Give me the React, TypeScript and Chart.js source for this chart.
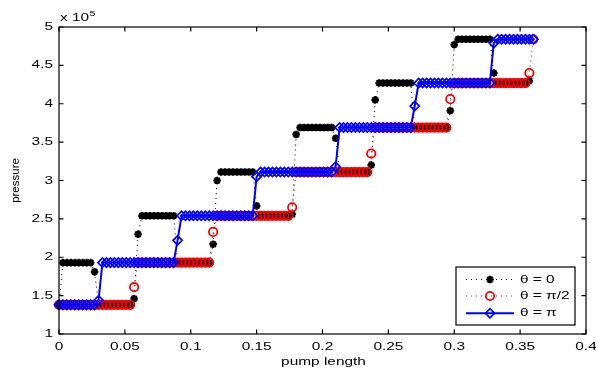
import React, { useEffect, useRef } from 'react';
import { Chart, registerables } from 'chart.js';

Chart.register(...registerables);

// pump length (x)
const PUMP_LENGTH = [
  0, 0.003, 0.006, 0.009, 0.012, 0.015, 0.018, 0.021, 0.024, 0.027,
  0.03, 0.033, 0.036, 0.039, 0.042, 0.045, 0.048, 0.051, 0.054, 0.057,
  0.06, 0.063, 0.066, 0.069, 0.072, 0.075, 0.078, 0.081, 0.084, 0.087,
  0.09, 0.093, 0.096, 0.099, 0.102, 0.105, 0.108, 0.111, 0.114, 0.117,
  0.12, 0.123, 0.126, 0.129, 0.132, 0.135, 0.138, 0.141, 0.144, 0.147,
  0.15, 0.153, 0.156, 0.159, 0.162, 0.165, 0.168, 0.171, 0.174, 0.177,
  0.18, 0.183, 0.186, 0.189, 0.192, 0.195, 0.198, 0.201, 0.204, 0.207,
  0.21, 0.213, 0.216, 0.219, 0.222, 0.225, 0.228, 0.231, 0.234, 0.237,
  0.24, 0.243, 0.246, 0.249, 0.252, 0.255, 0.258, 0.261, 0.264, 0.267,
  0.27, 0.273, 0.276, 0.279, 0.282, 0.285, 0.288, 0.291, 0.294, 0.297,
  0.3, 0.303, 0.306, 0.309, 0.312, 0.315, 0.318, 0.321, 0.324, 0.327,
  0.33, 0.333, 0.336, 0.339, 0.342, 0.345, 0.348, 0.351, 0.354, 0.357,
  0.36,
];

// pressure, in units of 10^5
const THETA_0 = [
  1.38, 1.93, 1.93, 1.93, 1.93, 1.93, 1.93, 1.93, 1.93, 1.81,
  1.38, 1.38, 1.38, 1.38, 1.38, 1.38, 1.38, 1.38, 1.38, 1.46,
  2.30, 2.54, 2.54, 2.54, 2.54, 2.54, 2.54, 2.54, 2.54, 2.54,
  1.93, 1.93, 1.93, 1.93, 1.93, 1.93, 1.93, 1.93, 1.93, 2.17,
  3.00, 3.11, 3.11, 3.11, 3.11, 3.11, 3.11, 3.11, 3.11, 3.11,
  2.67, 2.54, 2.54, 2.54, 2.54, 2.54, 2.54, 2.54, 2.54, 2.56,
  3.60, 3.69, 3.69, 3.69, 3.69, 3.69, 3.69, 3.69, 3.69, 3.69,
  3.55, 3.11, 3.11, 3.11, 3.11, 3.11, 3.11, 3.11, 3.11, 3.20,
  4.05, 4.27, 4.27, 4.27, 4.27, 4.27, 4.27, 4.27, 4.27, 4.27,
  3.69, 3.69, 3.69, 3.69, 3.69, 3.69, 3.69, 3.69, 3.69, 3.91,
  4.77, 4.84, 4.84, 4.84, 4.84, 4.84, 4.84, 4.84, 4.84, 4.84,
  4.40, 4.27, 4.27, 4.27, 4.27, 4.27, 4.27, 4.27, 4.27, 4.30,
  null,
];

const THETA_HALF_PI = [
  1.38, 1.38, 1.38, 1.38, 1.38, 1.38, 1.38, 1.38, 1.38, 1.38,
  1.38, 1.38, 1.38, 1.38, 1.38, 1.38, 1.38, 1.38, 1.38, 1.61,
  1.93, 1.93, 1.93, 1.93, 1.93, 1.93, 1.93, 1.93, 1.93, 1.93,
  1.93, 1.93, 1.93, 1.93, 1.93, 1.93, 1.93, 1.93, 1.93, 2.33,
  2.54, 2.54, 2.54, 2.54, 2.54, 2.54, 2.54, 2.54, 2.54, 2.54,
  2.54, 2.54, 2.54, 2.54, 2.54, 2.54, 2.54, 2.54, 2.54, 2.65,
  3.11, 3.11, 3.11, 3.11, 3.11, 3.11, 3.11, 3.11, 3.11, 3.11,
  3.11, 3.11, 3.11, 3.11, 3.11, 3.11, 3.11, 3.11, 3.11, 3.35,
  3.69, 3.69, 3.69, 3.69, 3.69, 3.69, 3.69, 3.69, 3.69, 3.69,
  3.69, 3.69, 3.69, 3.69, 3.69, 3.69, 3.69, 3.69, 3.69, 4.06,
  4.27, 4.27, 4.27, 4.27, 4.27, 4.27, 4.27, 4.27, 4.27, 4.27,
  4.27, 4.27, 4.27, 4.27, 4.27, 4.27, 4.27, 4.27, 4.27, 4.40,
  4.84,
];

const THETA_PI = [
  1.38, 1.38, 1.38, 1.38, 1.38, 1.38, 1.38, 1.38, 1.38, 1.38,
  1.44, 1.93, 1.93, 1.93, 1.93, 1.93, 1.93, 1.93, 1.93, 1.93,
  1.93, 1.93, 1.93, 1.93, 1.93, 1.93, 1.93, 1.93, 1.93, 1.93,
  2.22, 2.54, 2.54, 2.54, 2.54, 2.54, 2.54, 2.54, 2.54, 2.54,
  2.54, 2.54, 2.54, 2.54, 2.54, 2.54, 2.54, 2.54, 2.54, 2.54,
  3.05, 3.11, 3.11, 3.11, 3.11, 3.11, 3.11, 3.11, 3.11, 3.11,
  3.11, 3.11, 3.11, 3.11, 3.11, 3.11, 3.11, 3.11, 3.11, 3.11,
  3.18, 3.69, 3.69, 3.69, 3.69, 3.69, 3.69, 3.69, 3.69, 3.69,
  3.69, 3.69, 3.69, 3.69, 3.69, 3.69, 3.69, 3.69, 3.69, 3.69,
  3.97, 4.27, 4.27, 4.27, 4.27, 4.27, 4.27, 4.27, 4.27, 4.27,
  4.27, 4.27, 4.27, 4.27, 4.27, 4.27, 4.27, 4.27, 4.27, 4.27,
  4.79, 4.84, 4.84, 4.84, 4.84, 4.84, 4.84, 4.84, 4.84, 4.84,
  4.84,
];

const SERIES_LABELS = ['θ = 0', 'θ = π/2', 'θ = π'];

const X_TICKS = [0, 0.05, 0.1, 0.15, 0.2, 0.25, 0.3, 0.35, 0.4];
const X_TICK_LABELS = ['0', '0.05', '0.1', '0.15', '0.2', '0.25', '0.3', '0.35', '0.4'];
const Y_TICKS = [1, 1.5, 2, 2.5, 3, 3.5, 4, 4.5, 5];
const Y_TICK_LABELS = ['1', '1.5', '2', '2.5', '3', '3.5', '4', '4.5', '5'];
const Y_MULTIPLIER = ['x 10', '5'];
const X_TITLE = 'pump length';
const Y_TITLE = 'pressure';

const FONT = '"Liberation Sans", Arial, Helvetica, sans-serif';
const SX = 1.4;

function wideText(
  ctx: CanvasRenderingContext2D,
  text: string,
  x: number,
  y: number,
  align: CanvasTextAlign,
  size: number,
  baseline: CanvasTextBaseline = 'middle'
) {
  ctx.save();
  ctx.translate(x, y);
  ctx.scale(SX, 1);
  ctx.font = `${size}px ${FONT}`;
  ctx.textAlign = align;
  ctx.textBaseline = baseline;
  ctx.fillStyle = '#000';
  ctx.fillText(text, 0, 0);
  const w = ctx.measureText(text).width * SX;
  ctx.restore();
  return w;
}

function drawMarker(
  ctx: CanvasRenderingContext2D,
  style: string,
  x: number,
  y: number,
  r: number,
  color: string,
  lw: number
) {
  ctx.save();
  ctx.setLineDash([]);
  ctx.strokeStyle = color;
  ctx.lineWidth = lw;
  ctx.beginPath();
  if (style === 'star') {
    for (let k = 0; k < 4; k++) {
      const a = (k * Math.PI) / 4;
      ctx.moveTo(x - Math.cos(a) * r, y - Math.sin(a) * r);
      ctx.lineTo(x + Math.cos(a) * r, y + Math.sin(a) * r);
    }
  } else if (style === 'circle') {
    ctx.arc(x, y, r, 0, Math.PI * 2);
  } else {
    ctx.moveTo(x - r, y);
    ctx.lineTo(x, y - r);
    ctx.lineTo(x + r, y);
    ctx.lineTo(x, y + r);
    ctx.closePath();
  }
  ctx.stroke();
  ctx.restore();
}

const decorPlugin = {
  id: 'decor',
  afterDraw(chart: any) {
    const { ctx, chartArea: a, scales } = chart;
    const xs = scales.x;
    const ys = scales.y;
    ctx.save();
    // frame
    ctx.strokeStyle = '#000';
    ctx.lineWidth = 1.2;
    ctx.setLineDash([]);
    ctx.strokeRect(a.left, a.top, a.right - a.left, a.bottom - a.top);
    // inward ticks
    const T = 4.5;
    ctx.beginPath();
    X_TICKS.forEach((v) => {
      const px = xs.getPixelForValue(v);
      ctx.moveTo(px, a.bottom);
      ctx.lineTo(px, a.bottom - T);
      ctx.moveTo(px, a.top);
      ctx.lineTo(px, a.top + T);
    });
    Y_TICKS.forEach((v) => {
      const py = ys.getPixelForValue(v);
      ctx.moveTo(a.left, py);
      ctx.lineTo(a.left + T, py);
      ctx.moveTo(a.right, py);
      ctx.lineTo(a.right - T, py);
    });
    ctx.stroke();

    // tick labels
    X_TICKS.forEach((v, i) => {
      wideText(ctx, X_TICK_LABELS[i], xs.getPixelForValue(v), a.bottom + 12.5, 'center', 11);
    });
    Y_TICKS.forEach((v, i) => {
      wideText(ctx, Y_TICK_LABELS[i], a.left - 6, ys.getPixelForValue(v), 'right', 11);
    });

    // multiplier x 10^5
    const w = wideText(ctx, Y_MULTIPLIER[0], a.left + 1, a.top - 6, 'left', 11, 'alphabetic');
    wideText(ctx, Y_MULTIPLIER[1], a.left + 1 + w + 0.5, a.top - 11.5, 'left', 7.5, 'alphabetic');

    // axis titles
    wideText(ctx, X_TITLE, (a.left + a.right) / 2 + 1, a.bottom + 28, 'center', 11);
    ctx.save();
    ctx.translate(16, (a.top + a.bottom) / 2);
    ctx.rotate(-Math.PI / 2);
    ctx.font = `11.5px ${FONT}`;
    ctx.textAlign = 'center';
    ctx.textBaseline = 'middle';
    ctx.fillStyle = '#000';
    ctx.fillText(Y_TITLE, 0, 0);
    ctx.restore();

    // legend
    const lx = 456;
    const ly = 267;
    const lw = 119;
    const lh = 58;
    ctx.fillStyle = '#fff';
    ctx.fillRect(lx, ly, lw, lh);
    ctx.strokeStyle = '#000';
    ctx.lineWidth = 1.2;
    ctx.strokeRect(lx, ly, lw, lh);
    const rows = [ly + 12.5, ly + 29, ly + 46.3];
    chart.data.datasets.forEach((ds: any, i: number) => {
      const yy = rows[i];
      ctx.save();
      ctx.strokeStyle = ds.borderColor;
      ctx.lineWidth = ds.borderWidth;
      ctx.setLineDash(ds.borderDash || []);
      ctx.beginPath();
      ctx.moveTo(lx + 10, yy);
      ctx.lineTo(lx + 58, yy);
      ctx.stroke();
      ctx.restore();
      drawMarker(ctx, ds.pointStyle, lx + 34, yy, ds.pointRadius, ds.pointBorderColor, ds.pointBorderWidth);
      wideText(ctx, ds.label, lx + 64, yy, 'left', 11);
    });
    ctx.restore();
  },
};

export default function App() {
  const ref = useRef<HTMLCanvasElement>(null);

  useEffect(() => {
    const toPoints = (ys: (number | null)[]) =>
      PUMP_LENGTH.map((x, i) => ({ x, y: ys[i] }));

    const chart = new Chart(ref.current as HTMLCanvasElement, {
      type: 'line',
      data: {
        datasets: [
          {
            label: SERIES_LABELS[0],
            data: toPoints(THETA_0),
            borderColor: '#000000',
            borderWidth: 1,
            borderDash: [1, 4],
            pointStyle: 'star',
            pointRadius: 3.8,
            pointBorderWidth: 2.2,
            pointBorderColor: '#000000',
            pointBackgroundColor: 'rgba(0,0,0,0)',
            clip: false as any,
            order: 3,
          },
          {
            label: SERIES_LABELS[1],
            data: toPoints(THETA_HALF_PI),
            borderColor: '#ff0000',
            borderWidth: 1,
            borderDash: [1, 4],
            pointStyle: 'circle',
            pointRadius: 4.2,
            pointBorderWidth: 1.8,
            pointBorderColor: '#ff0000',
            pointBackgroundColor: 'rgba(0,0,0,0)',
            clip: false as any,
            order: 2,
          },
          {
            label: SERIES_LABELS[2],
            data: toPoints(THETA_PI),
            borderColor: '#0000ff',
            borderWidth: 2,
            pointStyle: 'rectRot',
            pointRadius: 4.6,
            pointBorderWidth: 1.7,
            pointBorderColor: '#0000ff',
            pointBackgroundColor: 'rgba(0,0,0,0)',
            clip: false as any,
            order: 1,
          },
        ] as any,
      },
      options: {
        animation: false,
        responsive: false,
        devicePixelRatio: 1,
        events: [],
        layout: { padding: { left: 59, top: 27, right: 10, bottom: 36 } },
        plugins: { legend: { display: false }, tooltip: { enabled: false } },
        scales: {
          x: { type: 'linear', min: 0, max: 0.4, display: false },
          y: { type: 'linear', min: 1, max: 5, display: false },
        },
      },
      plugins: [decorPlugin],
    });
    return () => chart.destroy();
  }, []);

  return (
    <div style={{ position: 'fixed', left: 0, top: 0, width: 596, height: 370, background: '#fff' }}>
      <canvas ref={ref} width={596} height={370} style={{ display: 'block', width: 596, height: 370 }} />
    </div>
  );
}
